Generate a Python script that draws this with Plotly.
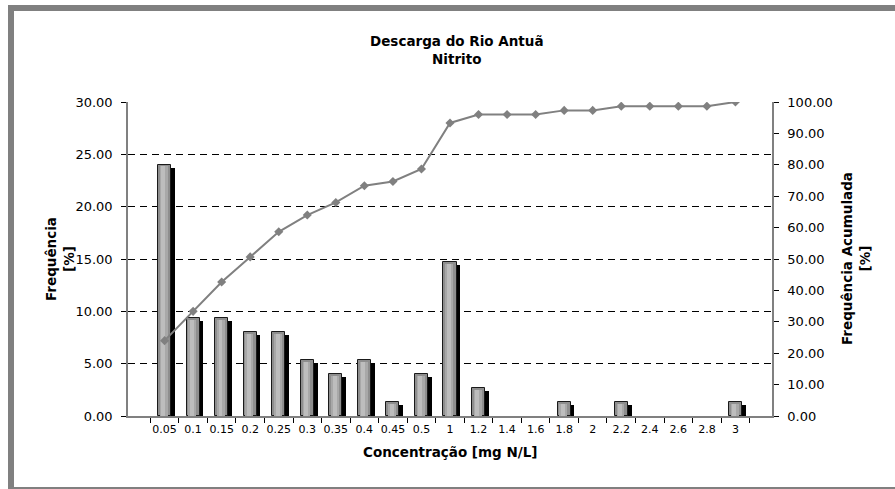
import plotly.graph_objects as go

categories = ["0.05", "0.1", "0.15", "0.2", "0.25", "0.3", "0.35", "0.4", "0.45", "0.5",
              "1", "1.2", "1.4", "1.6", "1.8", "2", "2.2", "2.4", "2.6", "2.8", "3"]
frequency = [24.00, 9.33, 9.33, 8.00, 8.00, 5.33, 4.00, 5.33, 1.33, 4.00,
             14.67, 2.67, 0, 0, 1.33, 0, 1.33, 0, 0, 0, 1.33]
cumulative = [24.00, 33.33, 42.67, 50.67, 58.67, 64.00, 68.00, 73.33, 74.67, 78.67,
              93.33, 96.00, 96.00, 96.00, 97.33, 97.33, 98.67, 98.67, 98.67, 98.67, 100.00]
left_ticks = [0, 5, 10, 15, 20, 25, 30]
right_ticks = [0, 10, 20, 30, 40, 50, 60, 70, 80, 90, 100]

W, H = 895, 489
L, R, T, B = 128, 772, 102, 416
pw, ph = R - L, B - T
ncat = len(categories)
cat_px = pw / ncat

def xp(px):
    return (px - L) / pw

def yp(py):
    return (B - py) / ph

bar_w = 0.46
shadow_dx = 4 / cat_px
shadow_dy = 3 / ph * 30
hi_dy = 1.5 / ph * 30

bar_vals = [v if v > 0 else None for v in frequency]
shadow_vals = [max(v - shadow_dy, 0) if v > 0 else None for v in frequency]
hi_vals = [v - hi_dy if v > 0 else None for v in frequency]

fig = go.Figure()
fig.add_trace(go.Bar(
    x=categories, y=shadow_vals, width=bar_w, offset=-bar_w / 2 + shadow_dx,
    marker=dict(color="black", line=dict(width=0)), hoverinfo="skip", showlegend=False,
))
fig.add_trace(go.Bar(
    x=categories, y=bar_vals, width=bar_w, offset=-bar_w / 2,
    marker=dict(color="#8e8e8e", line=dict(color="#1a1a1a", width=1)),
    name="Frequência", showlegend=False,
))
fig.add_trace(go.Bar(
    x=categories, y=hi_vals, width=bar_w * 0.6, offset=-bar_w * 0.36,
    marker=dict(color="#a8a8a8", line=dict(width=0)), hoverinfo="skip", showlegend=False,
))
fig.add_trace(go.Bar(
    x=categories, y=hi_vals, width=bar_w * 0.3, offset=-bar_w * 0.24,
    marker=dict(color="#bdbdbd", line=dict(width=0)), hoverinfo="skip", showlegend=False,
))
fig.add_trace(go.Scatter(
    x=categories, y=cumulative, yaxis="y2", mode="lines+markers",
    line=dict(color="#808080", width=2),
    marker=dict(symbol="diamond", size=7, color="#808080"),
    name="Frequência Acumulada", showlegend=False,
))

tick_font = dict(family="DejaVu Sans", size=13, color="black")
title_font = dict(family="DejaVu Sans", size=13.5, color="black", weight="bold")

fig.update_layout(
    width=W, height=H,
    margin=dict(l=L, r=W - R, t=T, b=H - B, pad=0, autoexpand=False),
    paper_bgcolor="white", plot_bgcolor="white",
    barmode="overlay", bargap=0,
    xaxis=dict(
        type="category", categoryorder="array", categoryarray=categories,
        showline=True, linecolor="#808080", linewidth=1.5,
        ticks="outside", tickson="boundaries", ticklen=5, tickcolor="black",
        tickfont=dict(family="DejaVu Sans", size=11, color="black"),
        tickangle=0, automargin=False, ticklabelstandoff=2,
        showgrid=False, zeroline=False,
    ),
    yaxis=dict(
        range=[0, 30], tickvals=left_ticks, tickformat=".2f",
        showline=True, linecolor="#808080", linewidth=1.5,
        ticks="outside", ticklen=5, tickcolor="black", ticklabelstandoff=6,
        tickfont=tick_font, automargin=False,
        showgrid=True, gridcolor="black", gridwidth=1, griddash="7px,5px",
        zeroline=False,
    ),
    yaxis2=dict(
        range=[0, 100], tickvals=right_ticks, tickformat=".2f",
        overlaying="y", side="right",
        showline=True, linecolor="#808080", linewidth=1.5,
        ticks="outside", ticklen=5, tickcolor="black", ticklabelstandoff=6,
        tickfont=tick_font, automargin=False,
        showgrid=False, zeroline=False,
    ),
    shapes=[
        dict(type="rect", xref="paper", yref="paper", x0=xp(8), x1=xp(14), y0=yp(488), y1=yp(5),
             fillcolor="#808080", line=dict(width=0), layer="below"),
        dict(type="rect", xref="paper", yref="paper", x0=xp(8), x1=xp(900), y0=yp(11), y1=yp(5),
             fillcolor="#808080", line=dict(width=0), layer="below"),
        dict(type="rect", xref="paper", yref="paper", x0=xp(8), x1=xp(900), y0=yp(489), y1=yp(487),
             fillcolor="#808080", line=dict(width=0), layer="below"),
    ],
    annotations=[
        dict(text="<b>Descarga do Rio Antuã<br>Nitrito</b>", xref="paper", yref="paper",
             x=xp(457), y=yp(50), xanchor="center", yanchor="middle", showarrow=False,
             font=title_font, align="center"),
        dict(text="<b>Frequência<br>[%]</b>", xref="paper", yref="paper",
             x=xp(60), y=yp(259), xanchor="center", yanchor="middle", showarrow=False,
             font=title_font, textangle=-90, align="center"),
        dict(text="<b>Frequência Acumulada<br>[%]</b>", xref="paper", yref="paper",
             x=xp(856), y=yp(259), xanchor="center", yanchor="middle", showarrow=False,
             font=title_font, textangle=-90, align="center"),
        dict(text="<b>Concentração [mg N/L]</b>", xref="paper", yref="paper",
             x=xp(450), y=yp(452), xanchor="center", yanchor="middle", showarrow=False,
             font=title_font),
    ],
)

fig.write_html("out.html", config={"displayModeBar": False},
               post_script="document.body.style.margin='0';")
